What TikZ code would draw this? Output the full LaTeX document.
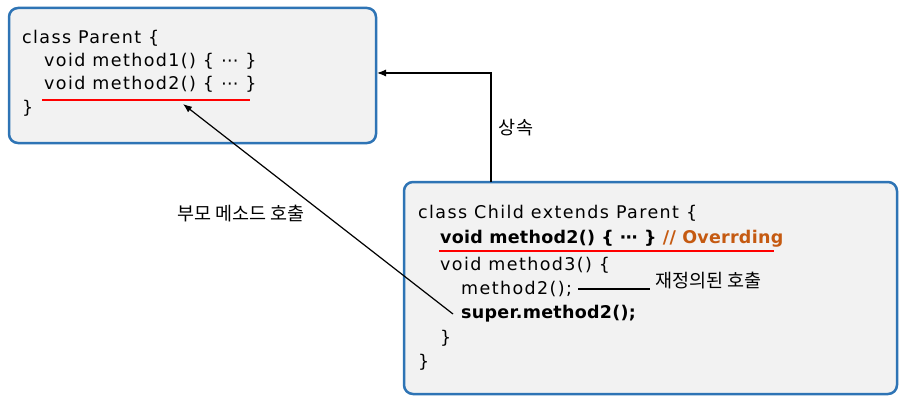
\documentclass[tikz,border=0pt]{standalone}
\usepackage{fontspec}
\usetikzlibrary{arrows.meta}
\setmainfont{DejaVu Sans}
\newfontfamily\codefont{DejaVu Sans}[LetterSpace=8]
\newfontfamily\boldcodefont{DejaVu Sans Bold}[LetterSpace=1.5]
\newfontfamily\krfont{Noto Sans CJK KR}
\definecolor{boxblue}{HTML}{2E74B5}
\definecolor{boxgray}{HTML}{F2F2F2}
\definecolor{notered}{HTML}{FF0000}
\definecolor{noteorange}{HTML}{C55A11}
\begin{document}
\begin{tikzpicture}[
  x=1pt, y=-1pt,
  classbox/.style={draw=boxblue, line width=2.5pt, fill=boxgray, rounded corners=9pt},
  code/.style={anchor=west, inner sep=0pt, font=\codefont\fontsize{17.5}{20}\selectfont},
  boldcode/.style={code, font=\boldcodefont\fontsize{17.5}{20}\selectfont},
  label/.style={inner sep=1pt, font=\krfont\fontsize{18.5}{22}\selectfont},
  underline/.style={notered, line width=1.5pt},
  link/.style={line width=1.2pt, -{Latex[length=9pt,width=7pt]}}]

  \useasboundingbox (0,0) rectangle (908,404);

  % parent class
  \draw[classbox] (9,8) rectangle (376,143);
  \node[code] (pclass) at (22,38) {class Parent \{};
  \node[code] (pm1) at (44,61) {void method1() \{ ⋯ \}};
  \node[code] (pm2) at (44,84) {void method2() \{ ⋯ \}};
  \node[code] (pend) at (22,108) {\}};
  \draw[underline] (42,100) -- (250,100);

  % child class
  \draw[classbox] (404,182) rectangle (897,394);
  \node[code] (cclass) at (418,213) {class Child extends Parent \{};
  \node[boldcode] (cm2) at (440,239) {void method2() \{ ⋯ \} \textcolor{noteorange}{// Overrding}};
  \node[code] (cm3) at (440,265) {void method3() \{};
  \node[code] (ccall) at (461,289) {method2();};
  \node[boldcode] (csuper) at (461,314) {super.method2();};
  \node[code] (cm3end) at (440,338) {\}};
  \node[code] (cend) at (418,362) {\}};
  \draw[underline] (439,251) -- (774,251);

  % labels and connectors
  \node[label, anchor=west] (redef) at (654,281) {재정의된 호출};
  \draw[line width=1.2pt] ([xshift=6pt]ccall.east) -- ([xshift=-4pt]ccall.east -| redef.west);

  \coordinate (inherit) at (491,182);
  \coordinate (parentin) at (377,73);
  \draw[link] (inherit) |- (parentin);
  \node[label] (inlabel) at (516,128) {상속};

  \coordinate (supertip) at (183,104);
  \draw[link] ([xshift=-8pt]csuper.west) -- (supertip);
  \node[label] (calllabel) at (241,214) {부모 메소드 호출};
\end{tikzpicture}
\end{document}
